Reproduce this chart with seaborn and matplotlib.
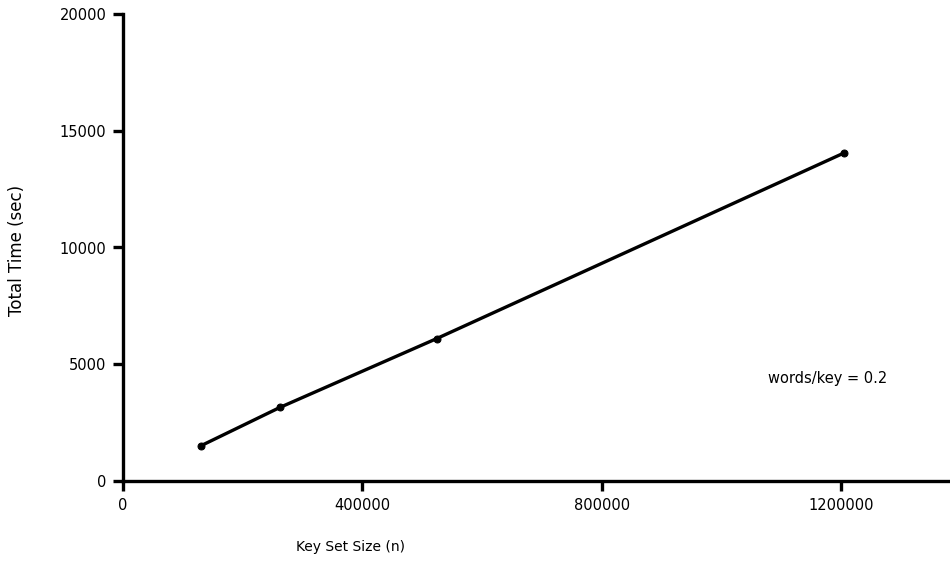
import matplotlib
matplotlib.use("Agg")
import matplotlib.pyplot as plt
import seaborn as sns
import pandas as pd

# Measured run times against key set size
key_set_size = [131072, 262144, 524288, 1205000]
total_time = [1520, 3150, 6100, 14050]

x_ticks = [0, 400000, 800000, 1200000]
x_tick_labels = ["0", "400000", "800000", "1200000"]
y_ticks = [0, 5000, 10000, 15000, 20000]
y_tick_labels = ["0", "5000", "10000", "15000", "20000"]

df = pd.DataFrame({"n": key_set_size, "t": total_time})

sns.set_style("ticks")
plt.rcParams["font.family"] = ["DejaVu Sans"]
plt.rcParams["text.color"] = "black"

fig = plt.figure(figsize=(9.5, 5.75), dpi=100)
ax = fig.add_axes([123 / 950, 1 - 481 / 575, 1 - 123 / 950, (481 - 14) / 575])

sns.lineplot(data=df, x="n", y="t", ax=ax, color="black", linewidth=2.4,
             marker="o", markersize=5, markeredgecolor="black")

ax.set_xlim(0, 1382000)
ax.set_ylim(0, 20000)
ax.set_xticks(x_ticks)
ax.set_xticklabels(x_tick_labels)
ax.set_yticks(y_ticks)
ax.set_yticklabels(y_tick_labels)
ax.set_xlabel("")
ax.set_ylabel("")

for side in ("top", "right"):
    ax.spines[side].set_visible(False)
for side in ("left", "bottom"):
    ax.spines[side].set_linewidth(2.4)
    ax.spines[side].set_color("black")

ax.tick_params(axis="both", which="major", direction="out", length=7,
               width=2.4, colors="black", labelcolor="black",
               labelsize=10.5, pad=5, left=True, bottom=True)

fig.text(17 / 950, 1 - 250 / 575, "Total Time (sec)", rotation=90,
         ha="center", va="center", fontsize=12, color="black")
fig.text(351 / 950, 1 - 547 / 575, "Key Set Size (n)", ha="center",
         va="center", fontsize=10, color="black")
fig.text(828 / 950, 1 - 378 / 575, "words/key = 0.2",
         ha="center", va="center", fontsize=10.5, color="black")

fig.savefig("out.png", dpi=100)
